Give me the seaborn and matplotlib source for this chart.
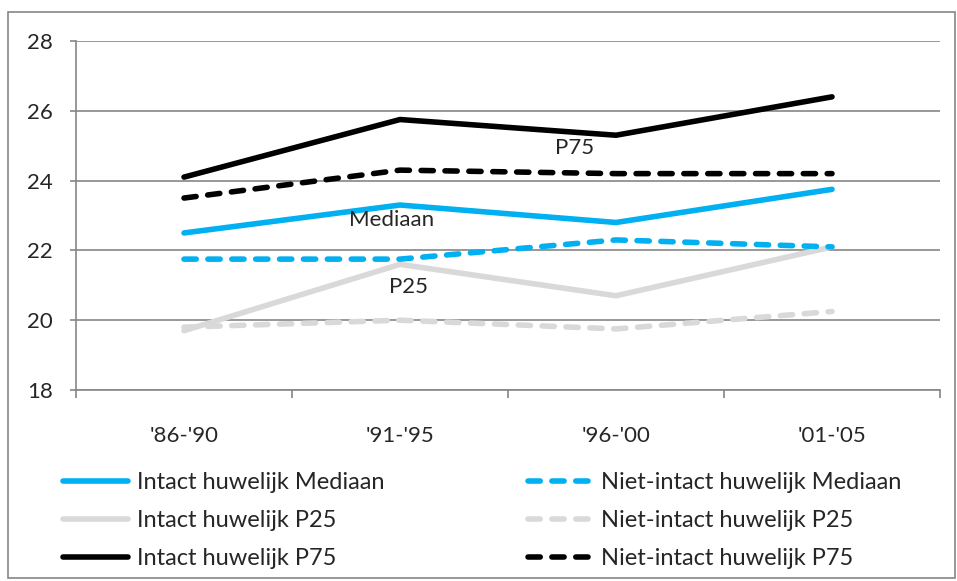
import matplotlib
matplotlib.use("Agg")
import matplotlib.pyplot as plt
import seaborn as sns
import pandas as pd
from matplotlib.patches import Rectangle

periods = ["'86-'90", "'91-'95", "'96-'00", "'01-'05"]
intact_mediaan = [22.5, 23.3, 22.8, 23.75]
intact_p25 = [19.7, 21.6, 20.7, 22.1]
intact_p75 = [24.1, 25.75, 25.3, 26.4]
niet_mediaan = [21.75, 21.75, 22.3, 22.1]
niet_p25 = [19.8, 20.0, 19.75, 20.25]
niet_p75 = [23.5, 24.3, 24.2, 24.2]

series = [
    ("Intact huwelijk Mediaan", intact_mediaan, "#00B0F0", False),
    ("Intact huwelijk P25", intact_p25, "#D9D9D9", False),
    ("Intact huwelijk P75", intact_p75, "#000000", False),
    ("Niet-intact huwelijk Mediaan", niet_mediaan, "#00B0F0", True),
    ("Niet-intact huwelijk P25", niet_p25, "#D9D9D9", True),
    ("Niet-intact huwelijk P75", niet_p75, "#000000", True),
]

sns.set_theme(style="white")
plt.rcParams['font.family'] = ['Lato', 'DejaVu Sans']

fig = plt.figure(figsize=(9.57, 5.81), dpi=100)
ax = fig.add_axes([76/957, 1-390/581, (940-76)/957, (390-41)/581])

draw_order = [4, 1, 3, 0, 5, 2]
lines = {}
for i in draw_order:
    name, vals, col, dashed = series[i]
    df = pd.DataFrame({"periode": periods, "waarde": vals})
    sns.lineplot(data=df, x="periode", y="waarde", ax=ax, color=col,
                 linewidth=4.0, sort=False, label=name, legend=False)
    ln = ax.get_lines()[-1]
    ln.set_solid_capstyle("round")
    ln.set_solid_joinstyle("round")
    if dashed:
        ln.set_dashes((2.2, 2.1))
        ln.set_dash_capstyle("round")
    lines[i] = ln

ax.set_xlim(-0.5, 3.5)
ax.set_ylim(18, 28)
ax.set_yticks([18, 20, 22, 24, 26, 28])
ax.set_xlabel("")
ax.set_ylabel("")
ax.grid(axis="y", color="#868686", linewidth=1.2)
ax.set_axisbelow(True)
for s in ["top", "right"]:
    ax.spines[s].set_visible(False)
for s in ["left", "bottom"]:
    ax.spines[s].set_color("#868686")
    ax.spines[s].set_linewidth(1.2)
ax.tick_params(axis="y", length=4.5, color="#868686", width=1.2, labelsize=16, pad=12, left=True)
ax.tick_params(axis="x", length=0, labelsize=16, pad=26, bottom=False)
ax.set_xticks([-0.5, 0.5, 1.5, 2.5, 3.5], minor=True)
ax.tick_params(axis="x", which="minor", length=6, color="#868686", width=1.2, bottom=True)

ax.text(1.81, 24.94, "P75", fontsize=16, ha="center", va="center")
ax.text(0.96, 22.86, "Mediaan", fontsize=16, ha="center", va="center")
ax.text(1.04, 20.94, "P25", fontsize=16, ha="center", va="center")

handles = [lines[i] for i in range(6)]
labels = [s[0] for s in series]
fig.legend(handles, labels, loc="upper left", bbox_to_anchor=(54/957, 1-463/581),
           ncol=2, frameon=False, fontsize=17, handlelength=2.75, handletextpad=0.35,
           columnspacing=6.1, labelspacing=0.71, borderaxespad=0)

fig.patches.append(Rectangle((8/957, 1-578/581), (955-8)/957, (578-12)/581,
                             transform=fig.transFigure, fill=False,
                             edgecolor="#868686", linewidth=1.2))

fig.savefig("out.png", dpi=100)
